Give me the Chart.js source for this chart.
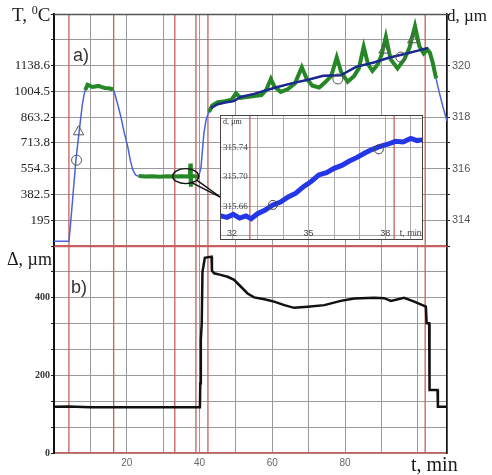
<!DOCTYPE html>
<html>
<head>
<meta charset="utf-8">
<script src="https://cdn.jsdelivr.net/npm/chart.js"></script>
<style>
  body { margin: 0; background: #fff; }
  #wrap { position: relative; width: 492px; height: 475px; overflow: hidden; }
  canvas { position: absolute; }
  .lbl { position: absolute; line-height: 1; white-space: nowrap; color: #1a1a1a; }
  .serif { font-family: "Liberation Serif", serif; }
  .sans { font-family: "Liberation Sans", Arial, sans-serif; color: #333; }
</style>
</head>
<body>
<div id="wrap">
  <canvas id="topChart" width="492" height="250" style="left:0;top:0"></canvas>
  <canvas id="bottomChart" width="492" height="235" style="left:0;top:240px"></canvas>
  <canvas id="insetChart" width="203" height="125" style="left:220px;top:115px"></canvas>
  <div class="lbl serif" style="left:12px;top:4px;font-size:19px">T, <sup style="font-size:12px;vertical-align:7px">0</sup>C</div>
  <div class="lbl serif" style="left:447px;top:7px;font-size:17px">d, µm</div>
  <div class="lbl sans" style="left:73px;top:46px;font-size:18px">a)</div>
  <div class="lbl serif" style="left:7px;top:250px;font-size:18px">Δ, µm</div>
  <div class="lbl sans" style="left:71px;top:278px;font-size:18px">b)</div>
  <div class="lbl serif" style="left:411px;top:454px;font-size:20px">t, min</div>
</div>
<script>
/* panel a) : thin blue d(t) curve */
const blueT = [0, 4.1, 4.4, 5.1, 6.0, 6.9, 7.8, 8.3, 8.8, 9.3, 10.0, 10.8, 11.8, 12.8, 14.0, 15.2, 16.2,
  16.6, 17.5, 18.4, 19.3, 20.3, 21.0, 21.7, 22.4, 23.2, 30.0, 39.8, 40.4, 41.2, 41.8, 42.3, 43.1,
  45.0, 47.0, 49.4, 51.3, 55.0, 60.4, 65.0, 69.8, 74.0, 78.8, 83.0, 87.9, 92.0, 97.2, 100.0, 102.7,
  104.1, 105.5, 106.9, 108.0];
const blueD = [313.18, 313.18, 313.6, 314.78, 316.3, 317.43, 318.5, 318.9, 319.15, 319.25, 319.2, 319.16, 319.2, 319.18, 319.12, 319.1, 319.08,
  318.95, 318.5, 318.0, 317.4, 316.83, 316.3, 315.94, 315.76, 315.71, 315.71, 315.70, 316.06, 317.38, 317.9, 318.1, 318.35,
  318.5, 318.57, 318.62, 318.78, 318.9, 319.13, 319.3, 319.45, 319.6, 319.62, 319.95, 320.12, 320.3, 320.48, 320.58, 320.68,
  320.1, 319.17, 318.39, 317.85];

/* panel a) : navy smooth line */
const fitT = [43.1, 45.0, 47.0, 49.4, 51.3, 55.0, 60.4, 65.0, 69.8, 74.0, 78.8, 83.0, 87.9, 92.0, 97.2, 100.0, 102.7];
const fitD = [318.35, 318.5, 318.57, 318.62, 318.78, 318.9, 319.13, 319.3, 319.45, 319.6, 319.62, 319.95, 320.12, 320.3, 320.48, 320.58, 320.68];

/* panel a) : green curve (null = gap) */
const greenT = [8.6, 9.2, 9.8, 10.5, 11.3, 12.2, 13.0, 14.0, 15.0, 16.2, 16.3,
  23.3, 25, 27, 29, 31, 33, 35, 37.3, 37.5, 37.6, 37.7, 39.0, 39.7, 39.8,
  42.6, 43.5, 45, 47, 48.8, 50.0, 51.2, 53, 55, 57, 58.3, 59.6, 60.5, 62.3, 64.2, 66.2, 68.1, 69.4, 71,
  72.9, 74.5, 76.2, 77.7, 78.9, 80.7, 82.5, 83.8, 85.1, 86.3, 87.5, 89.0, 90.0, 91.2, 92.5, 94.4,
  96.3, 97.7, 99.2, 100.4, 101.6, 102.6, 103.3, 104.1, 105.0];
const greenD = [319.05, 319.25, 319.22, 319.17, 319.19, 319.21, 319.17, 319.13, 319.12, 319.08, null,
  315.72, 315.70, 315.71, 315.69, 315.71, 315.70, 315.71, 315.70, 316.2, 315.3, 315.72, 315.70, 315.70, null,
  318.2, 318.45, 318.58, 318.62, 318.68, 318.92, 318.75, 318.78, 318.82, 318.85, 319.05, 319.48, 319.2, 318.98, 319.08, 319.3, 319.94, 319.5, 319.22,
  319.15, 319.35, 319.6, 320.32, 319.75, 319.37, 319.6, 319.9, 320.73, 320.05, 319.79, 320.05, 320.4, 321.12, 320.25, 319.89,
  320.25, 320.7, 321.53, 320.75, 320.47, 320.62, 320.5, 320.1, 319.5];

/* open markers on panel a) */
const markT = [6.2, 6.75, 78.0, 90.7, 95.3, 98.6];
const markD = [316.33, 317.43, 319.48, 320.6, 320.33, 321.0];
const markShape = ["circle", "triangle", "circle", "triangle", "circle", "triangle"];

/* tick labels */
const dTicks = [314, 315, 316, 317, 318, 319, 320];
const dTickLabels = ["314", "", "316", "", "318", "", "320"];
const tempLabels = ["195", "382.5", "554.3", "713.8", "863.2", "1004.5", "1138.6"];
const timeLabels = [20, 40, 60, 80];
const deltaLabels = [0, 200, 400];

/* red vertical markers (min) */
const redTimes = [4.1, 16.4, 33.2, 39.0, 42.3, 102.0];
const ellipseAt = [36.2, 315.71];
const calloutTo = [45.8, 314.89];

/* panel b) : delta(t) */
const deltaT = [0, 4, 10, 20, 30, 40.1, 40.2, 40.35, 40.6, 40.8, 41.45, 43.3, 43.4, 44, 45.8, 47.7, 49.5, 51.3, 53.2,
  55, 57.8, 60.5, 63.3, 66, 69.7, 74.3, 78.8, 82.5, 88, 90.7, 92.6, 96.2, 99, 102.2, 102.4, 103.1, 103.2, 105.4, 105.5, 108];
const deltaV = [119, 120, 118, 118, 118, 118, 180, 291, 335, 466, 503, 506, 470, 463, 459, 454, 446, 429, 411,
  401, 396, 390, 381, 374, 377, 381, 392, 398, 400, 399, 392, 400, 390, 377, 334, 334, 162, 162, 119, 119];

/* inset */
const insetT = [31.55, 31.8, 32.05, 32.3, 32.55, 32.75, 33.0, 33.3, 33.6, 33.9, 34.2, 34.5, 34.8, 35.1, 35.4, 35.7,
  36.0, 36.3, 36.6, 36.9, 37.2, 37.5, 37.8, 38.1, 38.4, 38.7, 39.0, 39.25, 39.45];
const insetD = [315.647, 315.645, 315.649, 315.644, 315.647, 315.643, 315.650, 315.655, 315.662, 315.666, 315.673, 315.678,
  315.687, 315.694, 315.703, 315.706, 315.712, 315.716, 315.722, 315.727, 315.733, 315.738, 315.742, 315.745, 315.749,
  315.748, 315.753, 315.750, 315.751];
const insetMarkT = [33.6, 37.75];
const insetMarkD = [315.662, 315.738];
const insetRedTimes = [32.7, 38.35];
const insetTTicks = [32, 33, 34, 35, 36, 37, 38, 39];
const insetTLabels = ["32", "", "", "35", "", "", "38", "t, min"];
const insetDTicks = [315.62, 315.66, 315.70, 315.74, 315.78];
const insetDLabels = ["", "315.66", "315.70", "315.74", ""];

const pts = (xs, ys) => xs.map((x, i) => ({ x: x, y: ys[i] }));
const GRID = "#9a9a9a";
const RED = "rgb(200,95,95)";

// drop the label padding so each plot area sits exactly inside its layout padding
function noPad(s) { s.paddingTop = 0; s.paddingBottom = 0; s.paddingLeft = 0; s.paddingRight = 0; }

function redLines(times) {
  return {
    id: "redLines",
    beforeDatasetsDraw(chart) {
      const { ctx, chartArea: a, scales: { x } } = chart;
      ctx.save();
      ctx.strokeStyle = RED;
      ctx.lineWidth = 1.3;
      times.forEach(t => {
        const px = x.getPixelForValue(t);
        ctx.beginPath(); ctx.moveTo(px, a.top); ctx.lineTo(px, a.bottom); ctx.stroke();
      });
      ctx.restore();
    }
  };
}

function topLine(color) {
  return {
    id: "topLine",
    beforeDatasetsDraw(chart) {
      const { ctx, chartArea: a } = chart;
      ctx.save();
      ctx.strokeStyle = color;
      ctx.lineWidth = 1.3;
      ctx.beginPath(); ctx.moveTo(a.left, a.top + 0.5); ctx.lineTo(a.right, a.top + 0.5); ctx.stroke();
      ctx.restore();
    }
  };
}

const ellipsePlugin = {
  id: "ellipse",
  afterDatasetsDraw(chart) {
    const { ctx, scales: { x, yD } } = chart;
    const cx = x.getPixelForValue(ellipseAt[0]), cy = yD.getPixelForValue(ellipseAt[1]);
    const tx = x.getPixelForValue(calloutTo[0]), ty = yD.getPixelForValue(calloutTo[1]);
    ctx.save();
    ctx.strokeStyle = "#111";
    ctx.lineWidth = 1.4;
    ctx.beginPath(); ctx.ellipse(cx, cy, 13, 7.5, 0, 0, Math.PI * 2); ctx.stroke();
    ctx.beginPath(); ctx.moveTo(cx + 11, cy + 4); ctx.lineTo(tx, ty); ctx.stroke();
    ctx.beginPath(); ctx.moveTo(cx + 6, cy + 6.5); ctx.lineTo(tx, ty); ctx.stroke();
    ctx.restore();
  }
};

/* ---------- panel a) ---------- */
new Chart(document.getElementById("topChart"), {
  type: "line",
  data: {
    datasets: [
      { type: "scatter", data: pts(markT, markD), yAxisID: "yD", pointStyle: markShape, pointRadius: [5, 6, 5, 6, 5, 6],
        borderColor: "#555", borderWidth: 1, backgroundColor: "rgba(0,0,0,0)", order: 0 },
      { data: pts(fitT, fitD), yAxisID: "yD", borderColor: "rgb(28,40,145)", borderWidth: 2.5, pointRadius: 0, order: 1 },
      { data: pts(greenT, greenD), yAxisID: "yD", borderColor: "rgb(38,135,38)", borderWidth: 4, pointRadius: 0, spanGaps: false, order: 2 },
      { data: pts(blueT, blueD), yAxisID: "yD", borderColor: "rgb(75,100,215)", borderWidth: 1.5, pointRadius: 0, order: 3 }
    ]
  },
  options: {
    responsive: false,
    animation: false,
    layout: { autoPadding: false, padding: { top: 14, bottom: 4, left: 0, right: 0 } },
    plugins: { legend: { display: false }, tooltip: { enabled: false } },
    scales: {
      x: {
        type: "linear", min: 0, max: 108,
        ticks: { display: false, stepSize: 10 },
        grid: { color: GRID, drawTicks: false },
        border: { color: RED, width: 1.5 },
        afterFit(s) { s.height = 0; noPad(s); }
      },
      yD: {
        position: "right", min: 313, max: 322,
        ticks: { stepSize: 1, padding: 2, color: "#555", font: { family: "Liberation Sans", size: 11 },
          callback: v => { const i = dTicks.indexOf(v); return i >= 0 ? dTickLabels[i] : ""; } },
        grid: { color: GRID, tickLength: 3, tickColor: "#222" },
        border: { color: "#111", width: 1.5 },
        afterFit(s) { s.width = 45; noPad(s); }
      },
      yT: {
        position: "left", min: 313, max: 322,
        ticks: { stepSize: 1, padding: 1, color: "#222", font: { family: "Liberation Serif", size: 13 },
          callback: v => { const i = dTicks.indexOf(v); return i >= 0 ? tempLabels[i] : ""; } },
        grid: { drawOnChartArea: false, tickLength: 3, tickColor: "#222" },
        border: { color: "#111", width: 2 },
        afterFit(s) { s.width = 54; noPad(s); }
      }
    }
  },
  plugins: [redLines(redTimes), topLine("#555"), ellipsePlugin]
});

/* ---------- panel b) ---------- */
new Chart(document.getElementById("bottomChart"), {
  type: "line",
  data: {
    datasets: [
      { data: pts(deltaT, deltaV), borderColor: "#111", borderWidth: 2.5, pointRadius: 0 }
    ]
  },
  options: {
    responsive: false,
    animation: false,
    layout: { autoPadding: false, padding: { top: 6, bottom: 0, left: 0, right: 0 } },
    plugins: { legend: { display: false }, tooltip: { enabled: false } },
    scales: {
      x: {
        type: "linear", min: 0, max: 108,
        ticks: { stepSize: 10, autoSkip: false, maxRotation: 0, padding: 4, color: "#666",
          font: { family: "Liberation Sans", size: 10 },
          callback: v => timeLabels.includes(v) ? String(v) : "" },
        grid: { color: GRID, drawTicks: false },
        border: { color: RED, width: 1.5 },
        afterFit(s) { s.height = 22; noPad(s); }
      },
      y: {
        position: "left", min: 0, max: 1600 / 3,
        ticks: { stepSize: 200 / 3, padding: 1, color: "#333", font: { family: "Liberation Serif", size: 10, weight: "bold" },
          callback: v => { const r = Math.round(v); return deltaLabels.includes(r) ? String(r) : ""; } },
        grid: { color: GRID, tickLength: 3, tickColor: "#222" },
        border: { color: "#111", width: 2 },
        afterFit(s) { s.width = 54; noPad(s); }
      },
      y2: {
        position: "right", min: 0, max: 1,
        ticks: { display: false },
        grid: { drawOnChartArea: false, drawTicks: false },
        border: { color: "#111", width: 1.5 },
        afterFit(s) { s.width = 45; noPad(s); }
      }
    }
  },
  plugins: [redLines(redTimes), topLine(RED)]
});

/* ---------- inset ---------- */
const insetBg = {
  id: "insetBg",
  beforeDraw(chart) {
    const { ctx, width, height } = chart;
    ctx.save(); ctx.fillStyle = "#fff"; ctx.fillRect(0, 0, width, height); ctx.restore();
  },
  afterDraw(chart) {
    const { ctx, chartArea: a } = chart;
    ctx.save();
    ctx.strokeStyle = "#444"; ctx.lineWidth = 1;
    ctx.strokeRect(a.left + 0.5, a.top + 0.5, a.right - a.left - 1, a.bottom - a.top - 1);
    ctx.fillStyle = "#333";
    ctx.font = "8px 'Liberation Serif'";
    ctx.fillText("d, µm", a.left + 3, a.top + 9);
    ctx.restore();
  }
};

new Chart(document.getElementById("insetChart"), {
  type: "line",
  data: {
    datasets: [
      { type: "scatter", data: pts(insetMarkT, insetMarkD), pointStyle: "circle", pointRadius: 4.5,
        borderColor: "#444", borderWidth: 1, backgroundColor: "rgba(0,0,0,0)", order: 0 },
      { data: pts(insetT, insetD), borderColor: "rgb(35,55,230)", borderWidth: 5, pointRadius: 0, order: 1 }
    ]
  },
  options: {
    responsive: false,
    animation: false,
    layout: { autoPadding: false, padding: 0 },
    plugins: { legend: { display: false }, tooltip: { enabled: false } },
    scales: {
      x: {
        type: "linear", min: 31.53, max: 39.48,
        afterBuildTicks(s) { s.ticks = insetTTicks.map(v => ({ value: v })); },
        ticks: { autoSkip: false, maxRotation: 0, mirror: true, padding: 1, color: "#444",
          font: { family: "Liberation Sans", size: 9 },
          callback: (v, i) => insetTLabels[i] },
        grid: { color: "#aaa", drawTicks: false },
        border: { display: false },
        afterFit(s) { s.height = 0; noPad(s); }
      },
      y: {
        min: 315.614, max: 315.785,
        afterBuildTicks(s) { s.ticks = insetDTicks.map(v => ({ value: v })); },
        ticks: { mirror: true, padding: 3, color: "#444", font: { family: "Liberation Serif", size: 9 },
          callback: (v, i) => insetDLabels[i] },
        grid: { color: "#aaa", drawTicks: false },
        border: { display: false },
        afterFit(s) { s.width = 0; noPad(s); }
      }
    }
  },
  plugins: [redLines(insetRedTimes), insetBg]
});
</script>
</body>
</html>
